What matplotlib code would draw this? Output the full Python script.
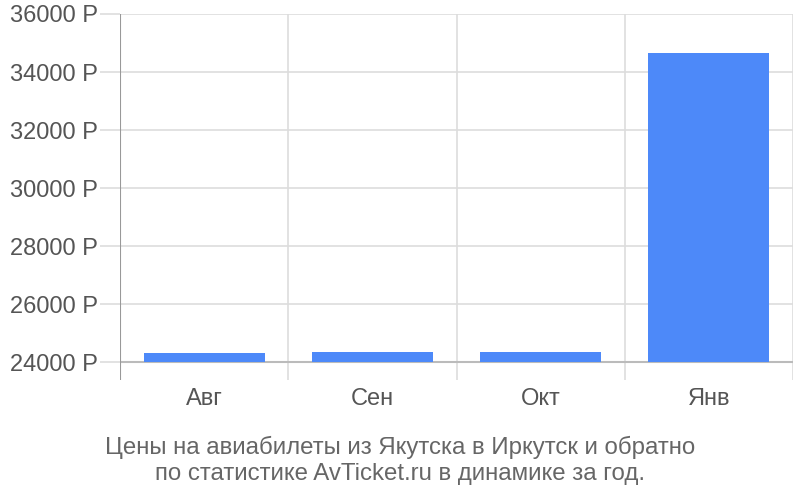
import matplotlib
matplotlib.use("Agg")
import matplotlib.pyplot as plt

# Data
months = ["Авг", "Сен", "Окт", "Янв"]
prices = [24300, 24330, 24330, 34650]
y_ticks = [24000, 26000, 28000, 30000, 32000, 34000, 36000]
title_lines = ["Цены на авиабилеты из Якутска в Иркутск и обратно",
               "по статистике AvTicket.ru в динамике за год."]

plt.rcParams['font.family'] = ['Liberation Sans', 'DejaVu Sans']

fig = plt.figure(figsize=(8, 5), dpi=100)
ax = fig.add_axes([0.15, 0.24, 0.84125, 0.732])

base = y_ticks[0]
x = list(range(len(months)))
heights = [p - base for p in prices]
ax.bar(x, heights, bottom=base, width=0.72, color="#4d89f9", zorder=3)

# y range: baseline sits a bit above the bottom of the axes
ax.set_xlim(-0.5, len(months) - 0.5)
ax.set_ylim(base - 620, y_ticks[-1])

# horizontal grid
for t in y_ticks[1:]:
    ax.axhline(t, color="#dddddd", lw=1.2, zorder=1)
ax.axhline(base, color="#bbbbbb", lw=1.5, zorder=2)

# vertical lines at category boundaries
for b in [i + 0.5 for i in x[:-1]] + [len(months) - 0.5]:
    ax.axvline(b, color="#dddddd", lw=1.2, zorder=1)
ax.axvline(-0.5, color="#999999", lw=1.5, zorder=4)

for s in ax.spines.values():
    s.set_visible(False)

ax.set_yticks(y_ticks)
ax.set_yticklabels([f"{t} Р" for t in y_ticks])
ax.set_xticks(x)
ax.set_xticklabels(months)
ax.tick_params(axis="both", labelsize=17, labelcolor="#555555")
ax.tick_params(axis="y", length=14.4, width=1.2, color="#dddddd", pad=1.5)
ax.tick_params(axis="x", length=0, pad=6)

fig.text(0.5, 0.106, title_lines[0], ha="center", va="center",
         fontsize=17.3, color="#666666")
fig.text(0.5, 0.052, title_lines[1], ha="center", va="center",
         fontsize=17.3, color="#666666")

fig.savefig("out.png", dpi=100)
